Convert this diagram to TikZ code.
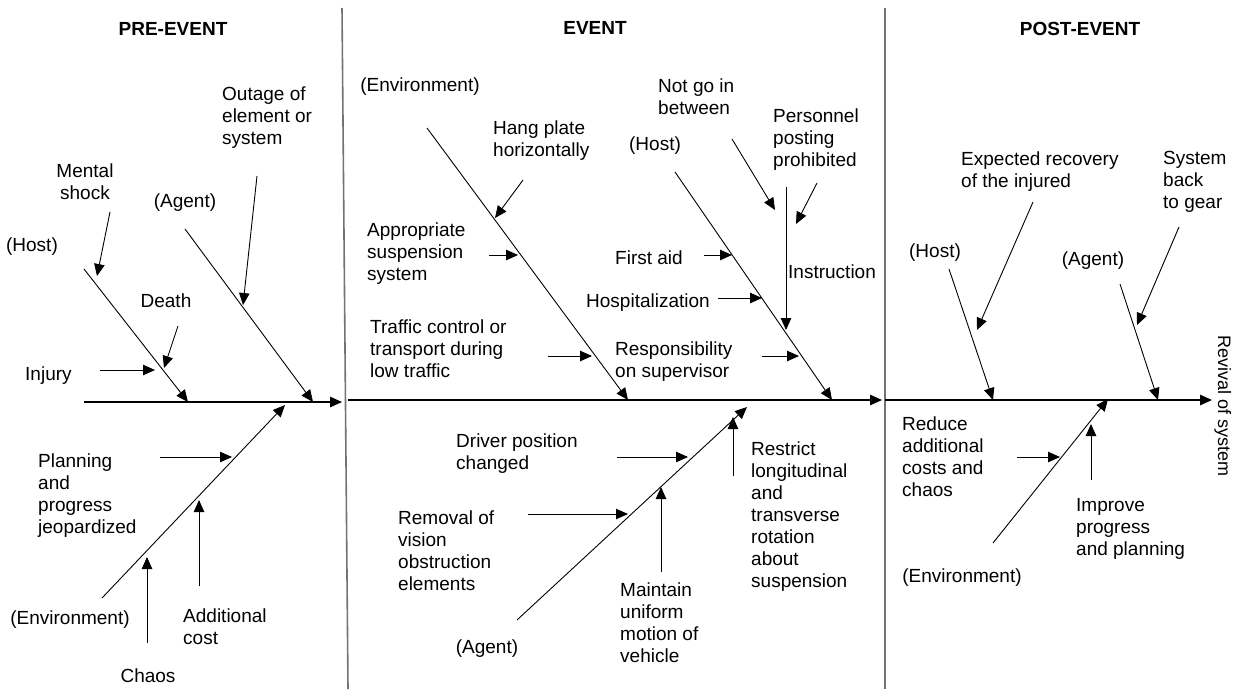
\documentclass[tikz,border=0pt]{standalone}
\usepackage{fontspec}
\setmainfont{Liberation Sans}
\usetikzlibrary{arrows.meta}
\newcommand\fst{\rule{0pt}{14pt}}
\begin{document}
\begin{tikzpicture}[x=1pt,y=-1pt,
  txt/.style={inner sep=0pt, font=\fontsize{19}{22}\selectfont, align=left, anchor=north west},
  ctxt/.style={txt, align=center, anchor=north},
  head/.style={inner sep=0pt, font=\fontsize{19}{22}\selectfont\bfseries, align=center, anchor=north},
  bone/.style={line width=0.9pt, -{Triangle[length=12pt,width=10.5pt]}},
  sub/.style={line width=0.9pt, -{Triangle[length=12pt,width=10.5pt]}},
  axis/.style={line width=1.3pt, -{Triangle[length=12pt,width=10.5pt]}},
  divider/.style={line width=1.6pt, draw=black!55}]
\useasboundingbox (0,0) rectangle (1244,689);

% dividers
\coordinate (d1t) at (342,8);   \coordinate (d1b) at (348,689);
\coordinate (d2t) at (885,8);   \coordinate (d2b) at (885,689);
\draw[divider] (d1t) -- (d1b);
\draw[divider] (d2t) -- (d2b);

% headings
\node[head] (hpre)  at (173,21) {\fst PRE-EVENT};
\node[head] (hev)   at (595,20) {\fst EVENT};
\node[head] (hpost) at (1080,21) {\fst POST-EVENT};

% ================= PRE-EVENT =================
\node[txt]  (outage) at (222,86)  {\fst Outage of\\element or\\system};
\node[ctxt] (mental) at (85,163)  {\fst Mental\\shock};
\node[ctxt] (pagent) at (185,193) {\fst (Agent)};
\node[ctxt] (phost)  at (32,237)  {\fst (Host)};
\node[ctxt] (death)  at (166,293) {\fst Death};
\node[txt]  (injury) at (25,366)  {\fst Injury};
\node[txt]  (plan)   at (38,453)  {\fst Planning\\and\\progress\\jeopardized};
\node[ctxt] (penv)   at (70,610)  {\fst (Environment)};
\node[txt]  (addc)   at (183,608) {\fst Additional\\cost};
\node[ctxt] (chaos)  at (148,668) {\fst Chaos};

\coordinate (pa0) at (84,402);   \coordinate (pa1) at (342,402);
\draw[axis] (pa0) -- (pa1);
\coordinate (phs) at (84,269);   \coordinate (phe) at (188,402);
\draw[bone] (phs) -- (phe);
\coordinate (pas) at (185,229);  \coordinate (pae) at (313,402);
\draw[bone] (pas) -- (pae);
\coordinate (pes) at (102,598);  \coordinate (pee) at (285,405);
\draw[bone] (pes) -- (pee);

\coordinate (ms0) at (110,212);  \coordinate (ms1) at (97,276);
\draw[sub] (ms0) -- (ms1);
\coordinate (de0) at (178,326);  \coordinate (de1) at (164,368);
\draw[sub] (de0) -- (de1);
\coordinate (ou0) at (257,176);  \coordinate (ou1) at (243,305);
\draw[sub] (ou0) -- (ou1);
\coordinate (in0) at (100,370);  \coordinate (in1) at (155,370);
\draw[sub] (in0) -- (in1);
\coordinate (pl0) at (160,457);  \coordinate (pl1) at (232,457);
\draw[sub] (pl0) -- (pl1);
\coordinate (ad0) at (199,586);  \coordinate (ad1) at (199,500);
\draw[sub] (ad0) -- (ad1);
\coordinate (ch0) at (147,643);  \coordinate (ch1) at (147,557);
\draw[sub] (ch0) -- (ch1);

% ================= EVENT =================
\node[ctxt] (eenv)   at (420,77)  {\fst (Environment)};
\node[txt]  (hang)   at (493,120) {\fst Hang plate\\horizontally};
\node[txt]  (appr)   at (367,222) {\fst Appropriate\\suspension\\system};
\node[txt]  (traf)   at (370,319) {\fst Traffic control or\\transport during\\low traffic};
\node[ctxt] (ehost)  at (655,136) {\fst (Host)};
\node[txt]  (notgo)  at (658,78)  {\fst Not go in\\between};
\node[txt]  (pers)   at (773,108) {\fst Personnel\\posting\\prohibited};
\node[txt]  (first)  at (615,250) {\fst First aid};
\node[txt]  (instr)  at (788,264) {\fst Instruction};
\node[txt]  (hosp)   at (586,293) {\fst Hospitalization};
\node[txt]  (resp)   at (615,341) {\fst Responsibility\\on supervisor};
\node[txt]  (driver) at (456,433) {\fst Driver position\\changed};
\node[txt]  (remov)  at (398,510) {\fst Removal of\\vision\\obstruction\\elements};
\node[txt]  (maint)  at (620,582) {\fst Maintain\\uniform\\motion of\\vehicle};
\node[txt]  (restr)  at (751,441) {\fst Restrict\\longitudinal\\and\\transverse\\rotation\\about\\suspension};
\node[ctxt] (eagent) at (487,639) {\fst (Agent)};

\coordinate (ea0) at (348,400);  \coordinate (ea1) at (882,400);
\draw[axis] (ea0) -- (ea1);
\coordinate (ees) at (427,128);  \coordinate (eee) at (628,400);
\draw[bone] (ees) -- (eee);
\coordinate (ehs) at (675,172);  \coordinate (ehe) at (832,400);
\draw[bone] (ehs) -- (ehe);
\coordinate (eas) at (517,620);  \coordinate (eae) at (747,407);
\draw[bone] (eas) -- (eae);

\coordinate (ha0) at (523,180);  \coordinate (ha1) at (495,218);
\draw[sub] (ha0) -- (ha1);
\coordinate (ap0) at (489,255);  \coordinate (ap1) at (518,255);
\draw[sub] (ap0) -- (ap1);
\coordinate (tr0) at (548,356);  \coordinate (tr1) at (592,356);
\draw[sub] (tr0) -- (tr1);
\coordinate (ng0) at (732,139);  \coordinate (ng1) at (775,210);
\draw[sub] (ng0) -- (ng1);
\coordinate (pp0) at (817,183);  \coordinate (pp1) at (796,224);
\draw[sub] (pp0) -- (pp1);
\coordinate (is0) at (786,187);  \coordinate (is1) at (786,330);
\draw[sub] (is0) -- (is1);
\coordinate (fa0) at (704,255);  \coordinate (fa1) at (732,255);
\draw[sub] (fa0) -- (fa1);
\coordinate (ho0) at (718,298);  \coordinate (ho1) at (762,298);
\draw[sub] (ho0) -- (ho1);
\coordinate (rs0) at (762,356);  \coordinate (rs1) at (799,356);
\draw[sub] (rs0) -- (rs1);
\coordinate (dr0) at (617,457);  \coordinate (dr1) at (688,457);
\draw[sub] (dr0) -- (dr1);
\coordinate (rm0) at (528,514);  \coordinate (rm1) at (628,514);
\draw[sub] (rm0) -- (rm1);
\coordinate (mt0) at (661,572);  \coordinate (mt1) at (661,487);
\draw[sub] (mt0) -- (mt1);
\coordinate (rt0) at (733,476);  \coordinate (rt1) at (733,417);
\draw[sub] (rt0) -- (rt1);

% ================= POST-EVENT =================
\node[txt]  (expec)  at (961,151)  {\fst Expected recovery\\of the injured};
\node[txt]  (sysb)   at (1163,150) {\fst System\\back\\to gear};
\node[ctxt] (qhost)  at (935,243)  {\fst (Host)};
\node[ctxt] (qagent) at (1093,251) {\fst (Agent)};
\node[txt]  (reduce) at (902,416)  {\fst Reduce\\additional\\costs and\\chaos};
\node[txt]  (improv) at (1076,497) {\fst Improve\\progress\\and planning};
\node[ctxt] (qenv)   at (962,568)  {\fst (Environment)};
\node[rotate=-90, anchor=base west, inner sep=0pt, font=\fontsize{18}{22}\selectfont] (revival) at (1218,335) {Revival of system};

\coordinate (qa0) at (885,400);  \coordinate (qa1) at (1212,400);
\draw[axis] (qa0) -- (qa1);
\coordinate (qhs) at (949,269);  \coordinate (qhe) at (993,400);
\draw[bone] (qhs) -- (qhe);
\coordinate (qas) at (1120,284); \coordinate (qae) at (1158,400);
\draw[bone] (qas) -- (qae);
\coordinate (qes) at (993,543);  \coordinate (qee) at (1108,399);
\draw[bone] (qes) -- (qee);

\coordinate (ex0) at (1033,202); \coordinate (ex1) at (977,330);
\draw[sub] (ex0) -- (ex1);
\coordinate (sy0) at (1179,227); \coordinate (sy1) at (1137,325);
\draw[sub] (sy0) -- (sy1);
\coordinate (rd0) at (1017,457); \coordinate (rd1) at (1060,457);
\draw[sub] (rd0) -- (rd1);
\coordinate (im0) at (1091,480); \coordinate (im1) at (1091,424);
\draw[sub] (im0) -- (im1);
\end{tikzpicture}
\end{document}
